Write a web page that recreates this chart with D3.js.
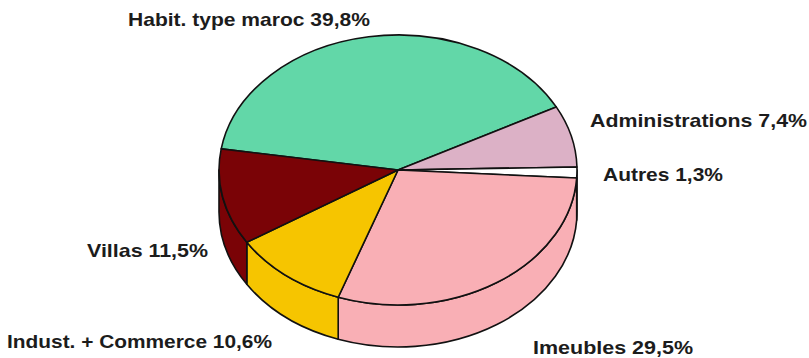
<!DOCTYPE html>
<html>
<head>
<meta charset="utf-8">
<script src="https://cdn.jsdelivr.net/npm/d3@7"></script>
<style>
  html, body { margin: 0; padding: 0; background: #ffffff; }
  svg { display: block; }
  text { font-family: "Liberation Sans", Arial, Helvetica, sans-serif; font-weight: bold; fill: #1c1c1c; }
</style>
</head>
<body>
<svg id="chart" width="809" height="358"></svg>
<script>
// Répartition par type de construction (%)
const categories = ["Habit. type maroc", "Administrations", "Autres", "Imeubles", "Indust. + Commerce", "Villas"];
const shares = [39.8, 7.4, 1.3, 29.5, 10.6, 11.5];
const palette = ["#62d7a8", "#dcb1c6", "#ffffff", "#f9afb5", "#f6c500", "#7a0306"];

// label placement: text start x, baseline y, rendered width
const labelLayout = {
  "Habit. type maroc":   { x: 128, y: 26,  w: 242 },
  "Administrations":     { x: 590, y: 127, w: 217 },
  "Autres":              { x: 603, y: 181, w: 120 },
  "Imeubles":            { x: 533, y: 354, w: 160 },
  "Indust. + Commerce":  { x: 7,   y: 348, w: 265 },
  "Villas":              { x: 87,  y: 257, w: 121 }
};

const svg = d3.select("#chart");

// tilted disc geometry
const cx = 398, cy = 170, rx = 179, ry = 135, depth = 42;
const startDeg = -81; // compass angle where the first slice begins

const color = d3.scaleOrdinal().domain(categories).range(palette);
const data = categories.map((c, i) => ({ name: c, value: shares[i] }));

const pie = d3.pie()
  .sort(null)
  .value(d => d.value)
  .startAngle(startDeg * Math.PI / 180)
  .endAngle(startDeg * Math.PI / 180 + 2 * Math.PI);

const arcs = pie(data);

// d3 angles run clockwise from 12 o'clock; convert to screen angle from +x
const toTheta = a => a - Math.PI / 2;
const pt = (t, dy = 0) => [cx + rx * Math.cos(t), cy + ry * Math.sin(t) + dy];
const fmt = v => d3.format(".1f")(v).replace(".", ",");

function topPath(t0, t1) {
  const p0 = pt(t0), p1 = pt(t1);
  const large = (t1 - t0) > Math.PI ? 1 : 0;
  return `M${cx},${cy}L${p0[0]},${p0[1]}A${rx},${ry} 0 ${large} 1 ${p1[0]},${p1[1]}Z`;
}

function sidePath(t0, t1) {
  const a0 = pt(t0), a1 = pt(t1), b1 = pt(t1, depth), b0 = pt(t0, depth);
  return `M${a0[0]},${a0[1]}A${rx},${ry} 0 0 1 ${a1[0]},${a1[1]}` +
         `L${b1[0]},${b1[1]}A${rx},${ry} 0 0 0 ${b0[0]},${b0[1]}Z`;
}

// visible part of the rim is the front half (0..π in screen angle)
function frontRanges(t0, t1) {
  const out = [];
  for (let k = -2; k <= 2; k++) {
    const lo = Math.max(t0, k * 2 * Math.PI), hi = Math.min(t1, k * 2 * Math.PI + Math.PI);
    if (hi > lo + 1e-6) out.push([lo, hi]);
  }
  return out;
}

const gSides = svg.append("g").attr("class", "sides");
const gTops = svg.append("g").attr("class", "tops");

arcs.forEach(a => {
  const t0 = toTheta(a.startAngle), t1 = toTheta(a.endAngle);
  frontRanges(t0, t1).forEach(([lo, hi]) => {
    gSides.append("path")
      .attr("d", sidePath(lo, hi))
      .attr("fill", color(a.data.name))
      .attr("stroke", "#111")
      .attr("stroke-width", 1.6)
      .attr("stroke-linejoin", "round");
  });
});

arcs.forEach(a => {
  const t0 = toTheta(a.startAngle), t1 = toTheta(a.endAngle);
  gTops.append("path")
    .attr("d", topPath(t0, t1))
    .attr("fill", color(a.data.name))
    .attr("stroke", "#111")
    .attr("stroke-width", 1.6)
    .attr("stroke-linejoin", "round");
});

// labels
svg.append("g").attr("class", "labels")
  .selectAll("text")
  .data(data)
  .join("text")
  .attr("x", d => labelLayout[d.name].x)
  .attr("y", d => labelLayout[d.name].y)
  .attr("font-size", 19)
  .attr("textLength", d => labelLayout[d.name].w)
  .attr("lengthAdjust", "spacingAndGlyphs")
  .text(d => `${d.name} ${fmt(d.value)}%`);
</script>
</body>
</html>
